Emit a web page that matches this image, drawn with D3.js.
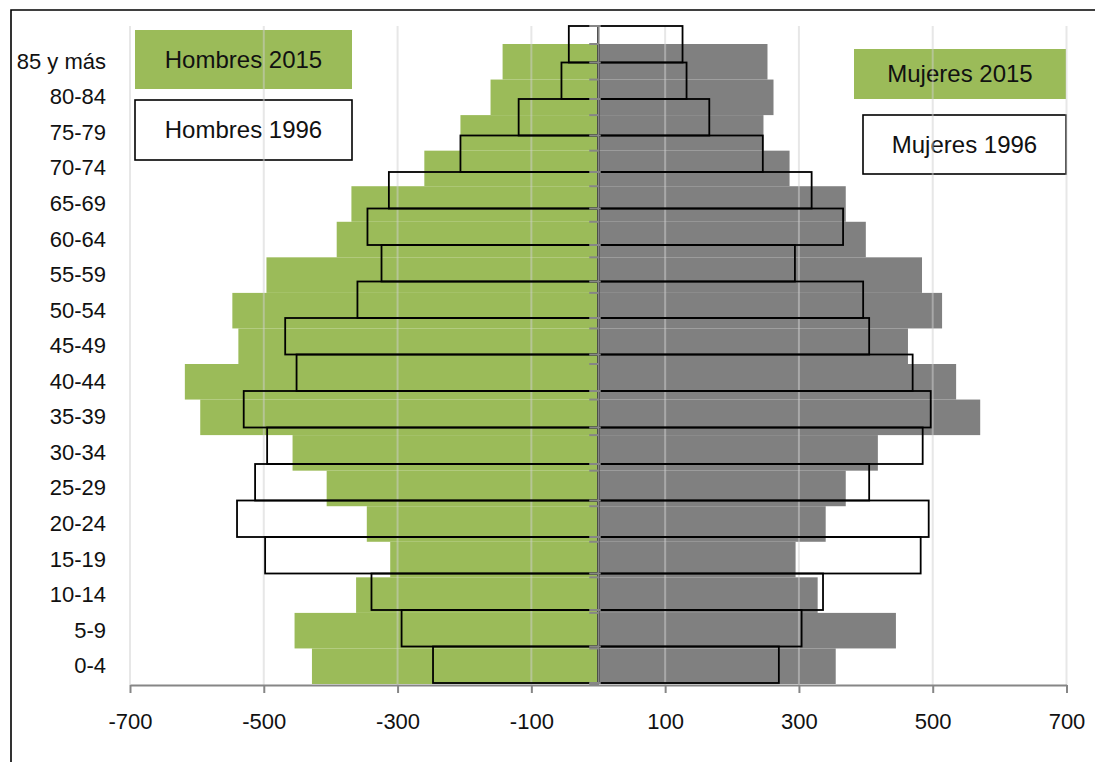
<!DOCTYPE html>
<html>
<head>
<meta charset="utf-8">
<script src="https://cdn.jsdelivr.net/npm/d3@7"></script>
<style>
	body { margin: 0; background: #fff; }
	svg { display: block; font-family: "Liberation Sans", Arial, sans-serif; }
	.pyr_tick text { font-size: 22px; fill: #111; }
	.pyr_legend text { font-size: 24px; fill: #111; }
</style>
</head>
<body>
<div id="pyramide"></div>
<script>

// groupes d'age, du plus jeune au plus vieux
const ages = ["0-4", "5-9", "10-14", "15-19", "20-24", "25-29", "30-34", "35-39", "40-44",
	"45-49", "50-54", "55-59", "60-64", "65-69", "70-74", "75-79", "80-84", "85 y más"];

const hombres2015 = [-428, -454, -362, -311, -346, -406, -457, -595, -618,
	-538, -547, -496, -391, -369, -260, -206, -161, -143];
const mujeres2015 = [355, 445, 328, 295, 340, 370, 418, 571, 535,
	463, 514, 484, 400, 370, 286, 247, 262, 253];
const hombres1996 = [-247, -294, -339, -498, -540, -513, -495, -530, -451,
	-468, -360, -324, -345, -313, -206, -119, -55, -44];
const mujeres1996 = [270, 304, 336, 482, 494, 405, 485, 497, 470,
	405, 396, 294, 366, 319, 246, 166, 132, 126];

const xTicks = [-700, -500, -300, -100, 100, 300, 500, 700];

const width = 1095;
const height = 762;

const svg = d3.select("#pyramide")
	.append("svg")
	.attr("width", width)
	.attr("height", height);

const x = d3.scaleLinear().domain([-700, 700]).range([130, 1066.5]);

// deux graphiques superposes (comme dans le classeur) : bandes legerement decalees
const order = ages.slice().reverse();
const y2015 = d3.scaleBand().domain(order).range([44, 684]).padding(0);
const y1996 = d3.scaleBand().domain(order).range([26, 683]).padding(0);

const plotBottom = 685;
const plotTop = 26;

const rows = ages.map((age, i) => ({
	age: age,
	h15: hombres2015[i],
	m15: mujeres2015[i],
	h96: hombres1996[i],
	m96: mujeres1996[i]
}));

// cadre
svg.append("path")
	.attr("d", `M11,${height} L11,10 L${width},10`)
	.attr("fill", "none")
	.attr("stroke", "#000")
	.attr("stroke-width", 1.6);

// barres 2015
svg.append("g")
	.selectAll("rect")
	.data(rows)
	.join("rect")
	.attr("x", d => x(d.h15))
	.attr("y", d => y2015(d.age))
	.attr("width", d => x(0) - x(d.h15))
	.attr("height", y2015.bandwidth())
	.attr("fill", "#9bbb59");

svg.append("g")
	.selectAll("rect")
	.data(rows)
	.join("rect")
	.attr("x", x(0))
	.attr("y", d => y2015(d.age))
	.attr("width", d => x(d.m15) - x(0))
	.attr("height", y2015.bandwidth())
	.attr("fill", "#808080");

// legendes
const legends = [
	{ label: "Hombres 2015", x0: 135, x1: 352, y0: 30, y1: 89, fill: "#9bbb59", stroke: "none" },
	{ label: "Hombres 1996", x0: 135, x1: 352, y0: 100, y1: 160, fill: "#fff", stroke: "#000" },
	{ label: "Mujeres 2015", x0: 854, x1: 1066, y0: 49, y1: 99, fill: "#9bbb59", stroke: "none" },
	{ label: "Mujeres 1996", x0: 863, x1: 1066, y0: 115, y1: 174, fill: "#fff", stroke: "#000" }
];

const legend = svg.append("g")
	.attr("class", "pyr_legend");

legend.selectAll("rect")
	.data(legends)
	.join("rect")
	.attr("x", d => d.x0)
	.attr("y", d => d.y0)
	.attr("width", d => d.x1 - d.x0)
	.attr("height", d => d.y1 - d.y0)
	.attr("fill", d => d.fill)
	.attr("stroke", d => d.stroke)
	.attr("stroke-width", 1.6);

// grille verticale (au dessus des barres 2015)
svg.append("g")
	.selectAll("line")
	.data(xTicks)
	.join("line")
	.attr("x1", d => x(d))
	.attr("x2", d => x(d))
	.attr("y1", plotTop)
	.attr("y2", plotBottom)
	.attr("stroke", "#cfcfcf")
	.attr("stroke-opacity", 0.5)
	.attr("stroke-width", 2);

legend.selectAll("text")
	.data(legends)
	.join("text")
	.attr("x", d => (d.x0 + d.x1) / 2)
	.attr("y", d => (d.y0 + d.y1) / 2 + 8)
	.attr("text-anchor", "middle")
	.text(d => d.label);

// barres 1996, contour seul
const outline = svg.append("g")
	.attr("fill", "none")
	.attr("stroke", "#000")
	.attr("stroke-width", 1.8);

outline.selectAll("rect.h")
	.data(rows)
	.join("rect")
	.attr("class", "h")
	.attr("x", d => x(d.h96))
	.attr("y", d => y1996(d.age))
	.attr("width", d => x(0) - x(d.h96))
	.attr("height", y1996.bandwidth());

outline.selectAll("rect.m")
	.data(rows)
	.join("rect")
	.attr("class", "m")
	.attr("x", x(0))
	.attr("y", d => y1996(d.age))
	.attr("width", d => x(d.m96) - x(0))
	.attr("height", y1996.bandwidth());

// axe vertical au zero, graduations entre categories
const axisColor = "#868686";
svg.append("line")
	.attr("x1", x(0))
	.attr("x2", x(0))
	.attr("y1", plotTop)
	.attr("y2", plotBottom)
	.attr("stroke", axisColor)
	.attr("stroke-width", 1.5);

const bounds2015 = order.map(a => y2015(a)).concat([y2015.range()[1]]);
const bounds1996 = order.map(a => y1996(a)).concat([y1996.range()[1]]);

svg.append("g")
	.selectAll("line")
	.data(bounds1996)
	.join("line")
	.attr("x1", x(0) - 9)
	.attr("x2", x(0) + 2.5)
	.attr("y1", d => d)
	.attr("y2", d => d)
	.attr("stroke", axisColor)
	.attr("stroke-width", 2);

svg.append("g")
	.selectAll("line")
	.data(bounds2015)
	.join("line")
	.attr("x1", x(0) - 9)
	.attr("x2", x(0))
	.attr("y1", d => d)
	.attr("y2", d => d)
	.attr("stroke", axisColor)
	.attr("stroke-width", 2);

// axe des x (trait d'union simple pour les negatifs)
const xAxis = svg.append("g")
	.attr("class", "pyr_tick")
	.attr("transform", `translate(0, ${plotBottom})`)
	.call(d3.axisBottom(x)
		.tickValues(xTicks)
		.tickFormat(d => String(d))
		.tickSize(8)
		.tickSizeOuter(0)
		.tickPadding(20));
xAxis.select(".domain").attr("stroke", axisColor).attr("stroke-width", 2);
xAxis.selectAll(".tick line").attr("stroke", axisColor).attr("stroke-width", 2);
xAxis.selectAll(".tick text").attr("font-size", 22).attr("fill", "#111").attr("font-family", null);

// etiquettes des ages
const yAxis = svg.append("g")
	.attr("class", "pyr_tick")
	.attr("transform", "translate(106, 0)")
	.call(d3.axisLeft(y2015).tickSize(0).tickPadding(0));
yAxis.select(".domain").remove();
yAxis.selectAll(".tick text").attr("font-size", 22).attr("fill", "#111").attr("font-family", null);

</script>
</body>
</html>
